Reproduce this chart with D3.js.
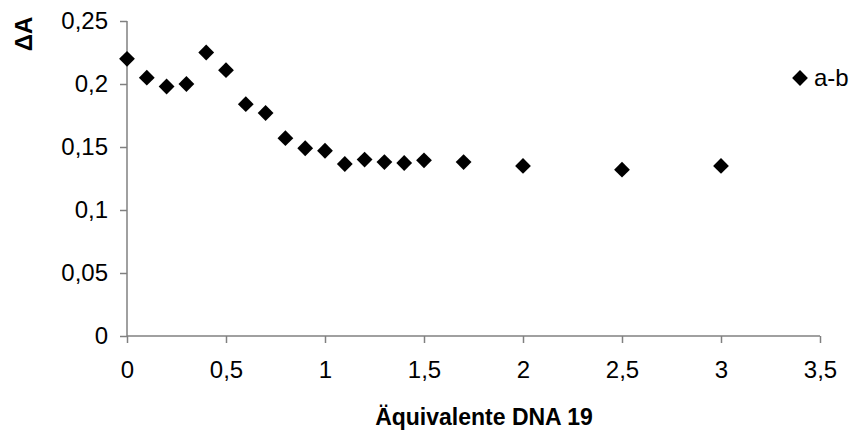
<!DOCTYPE html>
<meta charset="utf-8">
<body style="margin:0;background:#fff">
<script src="https://d3js.org/d3.v7.min.js"></script>
<script>
var width = 856,
    height = 432;

// data
var xValues = [0, 0.1, 0.2, 0.3, 0.4, 0.5, 0.6, 0.7, 0.8, 0.9, 1.0, 1.1, 1.2, 1.3, 1.4, 1.5, 1.7, 2.0, 2.5, 3.0];
var yValues = [0.22, 0.205, 0.198, 0.2, 0.225, 0.211, 0.184, 0.177, 0.157, 0.149, 0.147, 0.1365, 0.14, 0.138, 0.1373, 0.1394, 0.138, 0.135, 0.132, 0.135];
var xTicks = [0, 0.5, 1, 1.5, 2, 2.5, 3, 3.5];
var yTicks = [0, 0.05, 0.1, 0.15, 0.2, 0.25];
var seriesName = "a-b";

var plotLeft = 127, plotRight = 820, plotTop = 21, plotBottom = 336;

var x = d3.scaleLinear().domain([0, 3.5]).range([plotLeft, plotRight]);
var y = d3.scaleLinear().domain([0, 0.25]).range([plotBottom, plotTop]);

var fmt = function(d) { return String(d).replace(".", ","); };

var svg = d3.select("body").append("svg")
    .attr("width", width)
    .attr("height", height)
    .style("font-family", "'Liberation Sans', Arial, sans-serif");

// y axis
var yAxis = svg.append("g")
    .attr("transform", "translate(" + plotLeft + ",0)")
    .call(d3.axisLeft(y).tickValues(yTicks).tickFormat(fmt).tickSize(7).tickPadding(12));

// x axis
var xAxis = svg.append("g")
    .attr("transform", "translate(0," + plotBottom + ")")
    .call(d3.axisBottom(x).tickValues(xTicks).tickFormat(fmt).tickSize(7).tickPadding(18));

svg.selectAll(".domain").attr("stroke", "#808080").attr("stroke-width", 1.5);
svg.selectAll(".tick line").attr("stroke", "#808080").attr("stroke-width", 1.5);
svg.selectAll(".tick text")
    .attr("fill", "#000")
    .style("font-size", "24px");
// no end caps on the axis lines
yAxis.select(".domain").attr("d", "M0," + plotTop + "V" + plotBottom);
xAxis.select(".domain").attr("d", "M" + plotLeft + ",0H" + plotRight);

var diamond = d3.symbol().type(d3.symbolSquare).size(125);

// points
svg.append("g").selectAll("path")
    .data(xValues)
    .enter()
    .append("path")
    .attr("d", diamond)
    .attr("fill", "#000")
    .attr("transform", function(d, i) {
        return "translate(" + x(d) + "," + y(yValues[i]) + ")rotate(45)";
    });

// legend
svg.append("path")
    .attr("d", diamond)
    .attr("fill", "#000")
    .attr("transform", "translate(800,78)rotate(45)");
svg.append("text")
    .attr("x", 814)
    .attr("y", 86)
    .style("font-size", "24px")
    .text(seriesName);

// axis titles
svg.append("text")
    .attr("x", 484)
    .attr("y", 425)
    .attr("text-anchor", "middle")
    .style("font-size", "23px")
    .style("font-weight", "bold")
    .text("Äquivalente DNA 19");

svg.append("text")
    .attr("transform", "translate(32,34)rotate(-90)")
    .attr("text-anchor", "middle")
    .style("font-size", "24px")
    .style("font-weight", "bold")
    .text("ΔA");
</script>
</body>
</html>
